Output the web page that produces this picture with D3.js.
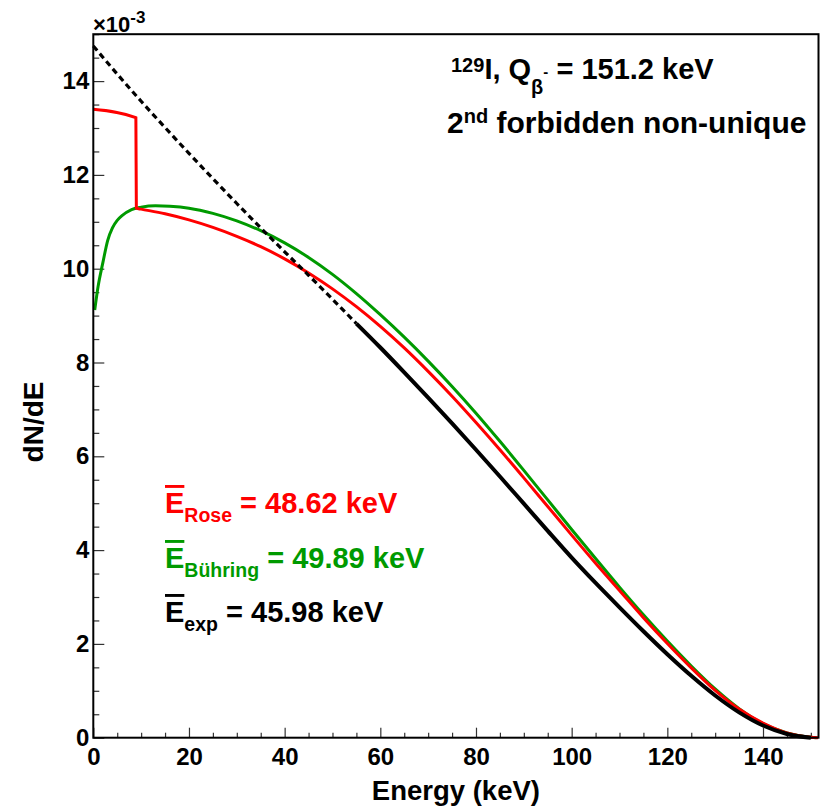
<!DOCTYPE html>
<html><head><meta charset="utf-8">
<script src="https://cdn.jsdelivr.net/npm/d3@7"></script>
<style>
body{margin:0;background:#fff}
text{font-family:"Liberation Sans",Arial,sans-serif;font-weight:bold}
</style>
</head><body>
<svg id="c" width="821" height="806"></svg>
<script>
// ---- data ----
const energyTicks = [0, 20, 40, 60, 80, 100, 120, 140];
const dndeTicks = [0, 2, 4, 6, 8, 10, 12, 14];

const greenE = [0.3, 1, 2, 3, 4, 5, 6, 8, 10, 13, 16, 20, 25, 30, 35, 40, 45, 50, 55, 60, 65, 70, 75, 80, 85, 90, 95, 100, 105, 110, 115, 120, 125, 130, 135, 140, 145, 150, 151.2];
const greenV = [9.12, 9.62, 10.13, 10.60, 10.87, 11.03, 11.13, 11.26, 11.31, 11.34, 11.33, 11.29, 11.18, 11.02, 10.81, 10.55, 10.24, 9.88, 9.47, 9.02, 8.54, 8.03, 7.49, 6.92, 6.32, 5.70, 5.07, 4.44, 3.82, 3.21, 2.62, 2.06, 1.53, 1.04, 0.62, 0.30, 0.10, 0.01, 0];

const redE = [0, 8.9, 9.0, 10, 15, 20, 25, 30, 35, 40, 45, 50, 55, 60, 65, 70, 75, 80, 85, 90, 95, 100, 105, 110, 115, 120, 125, 130, 135, 140, 145, 150, 151.5];
const redV = [13.40, 13.22, 11.29, 11.27, 11.17, 11.04, 10.88, 10.69, 10.47, 10.21, 9.91, 9.57, 9.19, 8.77, 8.31, 7.81, 7.28, 6.72, 6.14, 5.54, 4.93, 4.32, 3.72, 3.14, 2.56, 2.01, 1.49, 1.01, 0.61, 0.31, 0.10, 0.01, 0];

const expE = [0, 5, 10, 15, 20, 25, 30, 35, 40, 45, 50, 55, 60, 65, 70, 75, 80, 85, 90, 95, 100, 105, 110, 115, 120, 125, 130, 135, 140, 145, 150];
const expV = [14.75, 14.15, 13.57, 13.01, 12.46, 11.92, 11.39, 10.87, 10.36, 9.86, 9.35, 8.83, 8.32, 7.79, 7.25, 6.70, 6.14, 5.57, 4.99, 4.41, 3.84, 3.30, 2.78, 2.27, 1.78, 1.32, 0.90, 0.54, 0.26, 0.08, 0.0];
const expMeasuredFrom = 55; // below this energy the experimental curve is extrapolated (dashed)

// ---- chart ----
const svg = d3.select("#c");
const L = 93.3, R = 818.5, T = 34.2, B = 737.7;
const x = d3.scaleLinear().domain([0, 151.6]).range([L, R]);
const y = d3.scaleLinear().domain([0, 15]).range([B, T]);

const minorX = d3.range(0, 151, 5).filter(v => !energyTicks.includes(v));
const minorY = d3.range(0, 15.01, 0.5).filter(v => !dndeTicks.includes(v));

const tickStyle = g => { g.select(".domain").remove(); g.selectAll("line").attr("stroke", "#333").attr("stroke-width", 1.2); };
const labelStyle = g => g.selectAll("text").attr("font-size", 24).attr("fill", "#000")
  .attr("font-family", "Liberation Sans, Arial, sans-serif").attr("font-weight", "bold");

svg.append("g").attr("transform", `translate(0,${B})`)
  .call(d3.axisBottom(x).tickValues(minorX).tickSize(-5).tickFormat(""))
  .call(tickStyle);
svg.append("g").attr("transform", `translate(0,${B})`)
  .call(d3.axisBottom(x).tickValues(energyTicks).tickSize(-10).tickPadding(10).tickFormat(d3.format("d")))
  .call(tickStyle).call(labelStyle);

svg.append("g").attr("transform", `translate(${L},0)`)
  .call(d3.axisLeft(y).tickValues(minorY).tickSize(-6).tickFormat(""))
  .call(tickStyle);
svg.append("g").attr("transform", `translate(${L},0)`)
  .call(d3.axisLeft(y).tickValues(dndeTicks).tickSize(-11).tickPadding(4).tickFormat(d3.format("d")))
  .call(tickStyle).call(labelStyle);

// curves
const line = d3.line().x(d => x(d[0])).y(d => y(d[1])).curve(d3.curveMonotoneX);
const green = greenE.map((e, i) => [e, greenV[i]]);
const red = redE.map((e, i) => [e, redV[i]]);
const exp = expE.map((e, i) => [e, expV[i]]);

svg.append("path").attr("d", line(green)).attr("fill", "none").attr("stroke", "#009a00").attr("stroke-width", 3);
svg.append("path").attr("d", line(red)).attr("fill", "none").attr("stroke", "#ff0000").attr("stroke-width", 3);
svg.append("path").attr("d", line(exp.filter(d => d[0] <= expMeasuredFrom)))
  .attr("fill", "none").attr("stroke", "#000").attr("stroke-width", 3.2).attr("stroke-dasharray", "6,4");
svg.append("path").attr("d", line(exp.filter(d => d[0] >= expMeasuredFrom)))
  .attr("fill", "none").attr("stroke", "#000").attr("stroke-width", 4);

// frame
svg.append("rect").attr("x", L).attr("y", T).attr("width", R - L).attr("height", B - T)
  .attr("fill", "none").attr("stroke", "#000").attr("stroke-width", 2);

// exponent label
const ex = svg.append("text").attr("x", 93).attr("y", 32).attr("font-size", 22).attr("font-weight", "normal");
ex.append("tspan").text("×10");
ex.append("tspan").attr("font-size", 17).attr("dy", -9).text("-3");

// axis titles
svg.append("text").attr("x", (L + R) / 2).attr("y", 800).attr("text-anchor", "middle").attr("font-size", 27.5).text("Energy (keV)");
svg.append("text").attr("transform", "translate(43,422) rotate(-90)").attr("text-anchor", "middle").attr("font-size", 28).text("dN/dE");

// top-right annotation
const t1 = svg.append("text").attr("x", 451).attr("y", 79).attr("font-size", 29);
t1.append("tspan").attr("font-size", 20).attr("dy", -7).text("129");
t1.append("tspan").attr("dy", 7).text("I, Q");
t1.append("tspan").attr("font-size", 20).attr("dy", 15).text("β");
t1.append("tspan").attr("font-size", 15).attr("dy", -17).text("-");
t1.append("tspan").attr("dy", 2).text(" = 151.2 keV");

const t2 = svg.append("text").attr("x", 447).attr("y", 133).attr("font-size", 30);
t2.append("tspan").text("2");
t2.append("tspan").attr("font-size", 20).attr("dy", -10).text("nd");
t2.append("tspan").attr("dy", 10).text(" forbidden non-unique");

// mean energies
const means = [
  {sub: "Rose", val: "48.62", color: "#ff0000", y: 513},
  {sub: "Bühring", val: "49.89", color: "#009a00", y: 568},
  {sub: "exp", val: "45.98", color: "#000000", y: 622}
];
means.forEach(m => {
  const t = svg.append("text").attr("x", 165).attr("y", m.y).attr("font-size", 29).attr("fill", m.color);
  t.append("tspan").style("text-decoration", "overline").text("E");
  t.append("tspan").attr("font-size", 19.5).attr("dy", 9).text(m.sub);
  t.append("tspan").attr("dy", -9).text(" = " + m.val + " keV");
});
</script>
</body></html>
